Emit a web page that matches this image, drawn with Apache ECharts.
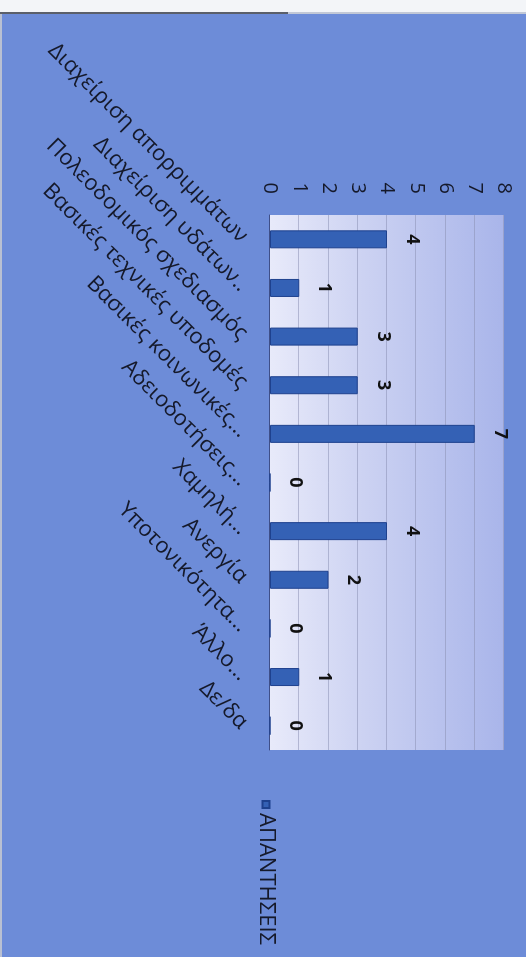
<!DOCTYPE html>
<html style="height: 100%">
<head>
  <meta charset="utf-8">
  <title>ΑΠΑΝΤΗΣΕΙΣ</title>
  <style>
    html, body { margin: 0; padding: 0; width: 526px; height: 957px; overflow: hidden; background: #6d8cd8; }
    /* chart is drawn as a normal column chart, then turned a quarter clockwise like the photo */
    #main { position: absolute; left: 0; top: 0; width: 957px; height: 526px;
            transform-origin: 0 0; transform: translateX(526px) rotate(90deg); }
    #strip { position: absolute; left: 0; top: 0; width: 526px; height: 12px; background: #f3f5f8;
             border-bottom: 2px solid #c2c8d6; z-index: 2; }
    #strip div { width: 288px; height: 2px; background: #5a5f6a; position: absolute; top: 12px; left: 0; }
    #edge { position: absolute; left: 0; top: 14px; width: 2px; height: 943px; background: #b9c0d2; z-index: 2; }
  </style>
</head>
<body>
  <div id="strip"><div></div></div>
  <div id="edge"></div>
  <div id="main"></div>
  <script src="https://cdn.jsdelivr.net/npm/echarts@6/dist/echarts.min.js"></script>
  <script type="text/javascript">
    var categories = [
      'Διαχείριση απορριμμάτων',
      'Διαχείριση υδάτων..',
      'Πολεοδομικός σχεδιασμός',
      'Βασικές τεχνικές υποδομές',
      'Βασικές κοινωνικές...',
      'Αδειοδοτήσεις...',
      'Χαμηλή...',
      'Ανεργία',
      'Υποτονικότητα...',
      'Άλλο...',
      'Δε/δα'
    ];
    var answers = [4, 1, 3, 3, 7, 0, 4, 2, 0, 1, 0];
    var seriesName = 'ΑΠΑΝΤΗΣΕΙΣ';
    var valueMin = 0, valueMax = 8, valueStep = 1;

    var dom = document.getElementById('main');
    var myChart = echarts.init(dom);
    var textColor = '#15192a';

    var option = {
      backgroundColor: '#6d8cd8',
      textStyle: { fontFamily: 'Open Sans' },
      legend: {
        data: [seriesName],
        left: 795,
        top: 244,
        icon: 'rect',
        itemWidth: 7,
        itemHeight: 7,
        itemGap: 6,
        textStyle: { fontSize: 22, color: textColor }
      },
      grid: {
        left: 215,
        right: 207,
        top: 22,
        bottom: 270,
        show: true,
        borderWidth: 0,
        backgroundColor: new echarts.graphic.LinearGradient(0, 0, 0, 1, [
          { offset: 0, color: '#a9b5ea' },
          { offset: 0.6, color: '#ccd2f2' },
          { offset: 1, color: '#e8eafa' }
        ])
      },
      xAxis: {
        type: 'category',
        data: categories,
        axisLine: { show: true, lineStyle: { color: '#3f4f88' } },
        axisTick: { show: false },
        axisLabel: { interval: 0, rotate: 45, margin: 26, fontSize: 22, color: textColor }
      },
      yAxis: {
        type: 'value',
        min: valueMin,
        max: valueMax,
        interval: valueStep,
        axisLine: { show: false },
        axisTick: { show: false },
        axisLabel: { margin: 21, fontSize: 20, color: textColor },
        splitLine: { lineStyle: { color: 'rgba(140,146,180,0.55)', width: 1 } }
      },
      series: [
        {
          name: seriesName,
          type: 'bar',
          data: answers,
          barWidth: 18,
          itemStyle: { color: '#3461b5', borderColor: '#1e418e', borderWidth: 1 },
          label: {
            show: true,
            position: 'top',
            distance: 16,
            fontSize: 18,
            fontWeight: 'bold',
            color: '#111'
          }
        }
      ]
    };
    myChart.setOption(option, true);
  </script>
</body>
</html>
